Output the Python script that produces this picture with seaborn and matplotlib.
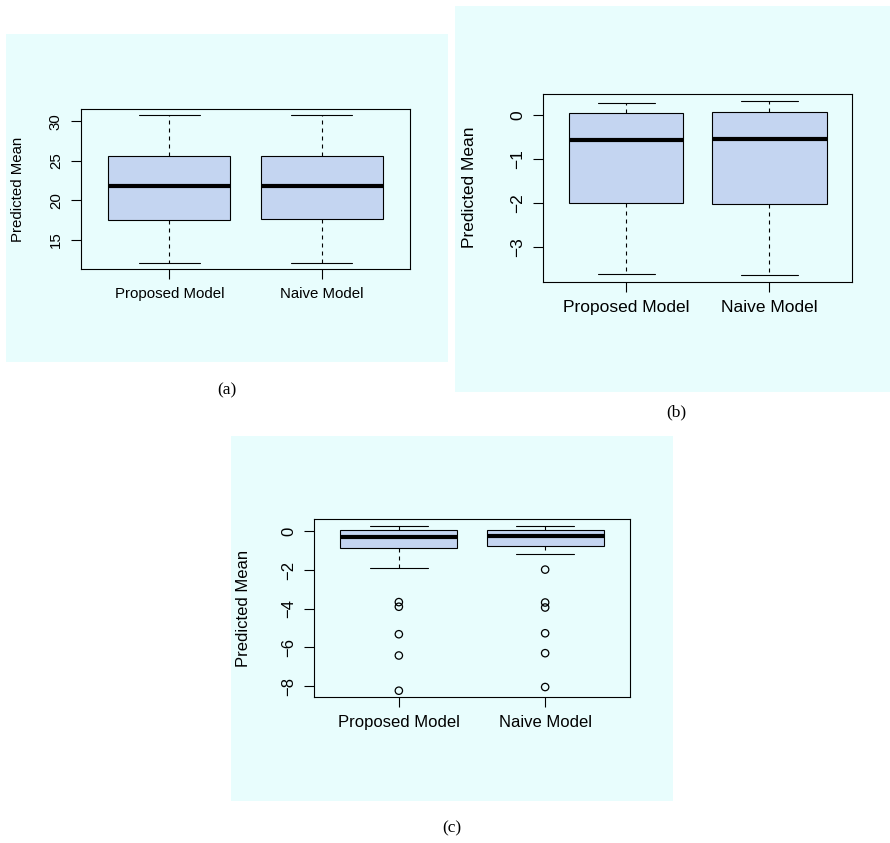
import numpy as np
import pandas as pd
import matplotlib
matplotlib.use("Agg")
import matplotlib.pyplot as plt
from matplotlib.patches import Rectangle
import seaborn as sns

# Model names on the x axis
categories = ["Proposed Model", "Naive Model"]

# Five-number summaries (lower whisker, Q1, median, Q3, upper whisker)
a_proposed = [12.05, 17.55, 21.8, 25.6, 30.8]
a_naive = [12.1, 17.6, 21.8, 25.6, 30.8]
b_proposed = [-3.60, -2.00, -0.57, 0.05, 0.28]
b_naive = [-3.62, -2.01, -0.55, 0.07, 0.33]
c_proposed = [-1.90, -0.86, -0.29, 0.07, 0.26]
c_naive = [-1.19, -0.74, -0.26, 0.09, 0.28]

# Outlying predictions in panel (c)
c_proposed_out = [-3.66, -3.90, -5.32, -6.42, -8.24]
c_naive_out = [-1.98, -3.68, -3.94, -5.27, -6.30, -8.05]

# Y tick values
a_ticks = [15, 20, 25, 30]
b_ticks = [-3, -2, -1, 0]
c_ticks = [-8, -6, -4, -2, 0]

panel_labels = ["(a)", "(b)", "(c)"]

BG = "#E8FDFD"
BOX = "#C4D5F1"

sns.set_theme(style="ticks")
plt.rcParams["font.family"] = ["Liberation Sans", "DejaVu Sans"]
plt.rcParams.update({
    "text.color": "black",
    "axes.labelcolor": "black",
    "xtick.color": "black",
    "ytick.color": "black",
    "axes.edgecolor": "black",
})

W, H = 890, 843
fig = plt.figure(figsize=(W / 100, H / 100), dpi=100, facecolor="white")


def frac_rect(x0, y0, x1, y1):
    return [x0 / W, 1 - y1 / H, (x1 - x0) / W, (y1 - y0) / H]


def long_form(first, second):
    return pd.DataFrame({
        "model": [categories[0]] * len(first) + [categories[1]] * len(second),
        "value": list(first) + list(second),
    })


def tick_text(v):
    return str(v).replace("-", "\u2212")


def draw_panel(bg, axrect, summ, outliers, ticks, fs, ylab_off, cap_xy, cap_label):
    x0, y0, x1, y1 = bg
    fig.patches.append(Rectangle((x0 / W, 1 - y1 / H), (x1 - x0) / W, (y1 - y0) / H,
                                 transform=fig.transFigure, facecolor=BG,
                                 edgecolor="none", zorder=-10))
    ax = fig.add_axes(frac_rect(*axrect))
    ax.set_zorder(5)
    ax.set_facecolor(BG)
    df = long_form(*summ)
    sns.boxplot(data=df, x="model", y="value", order=categories, ax=ax,
                width=0.8, whis=(0, 100), color=BOX, linecolor="black",
                linewidth=0.8, saturation=1, showfliers=False,
                capwidths=0.4,
                medianprops=dict(linewidth=3.0, color="black", solid_capstyle="butt"),
                whiskerprops=dict(linestyle=(0, (3.6, 3.6)), linewidth=0.8),
                capprops=dict(linewidth=0.8))
    if outliers is not None:
        n_before = len(ax.collections)
        odf = long_form(*outliers)
        sns.stripplot(data=odf, x="model", y="value", order=categories, ax=ax,
                      jitter=False, color="black", size=5.3, marker="o")
        for pts in ax.collections[n_before:]:
            pts.set_facecolor("none")
            pts.set_edgecolor("black")
            pts.set_linewidth(0.9)
    lo = min(min(s) for s in summ)
    hi = max(max(s) for s in summ)
    if outliers is not None:
        lo = min(lo, min(min(o) for o in outliers))
    pad = (hi - lo) * 0.04
    ax.set_ylim(lo - pad, hi + pad)
    ax.set_xlim(-0.58, 1.58)
    ax.set_yticks(ticks)
    ax.set_yticklabels([tick_text(t) for t in ticks])
    ax.set_xlabel("")
    ax.set_ylabel("Predicted Mean", fontsize=fs, color="black")
    ax.yaxis.set_label_coords(ylab_off, 0.5)
    ax.tick_params(axis="y", labelrotation=90, labelsize=fs, length=7, width=0.8,
                   pad=6, color="black", labelcolor="black")
    ax.tick_params(axis="x", labelsize=fs, length=7, width=0.8, pad=6, color="black",
                   labelcolor="black")
    for lbl in ax.get_yticklabels():
        lbl.set_verticalalignment("center")
    for s in ax.spines.values():
        s.set_visible(True)
        s.set_color("black")
        s.set_linewidth(0.8)
    fig.text(cap_xy[0] / W, 1 - cap_xy[1] / H, cap_label, ha="center", va="center",
             fontsize=12.5, color="black", family=["Liberation Serif", "DejaVu Serif"])
    return ax


draw_panel((6, 34, 448, 362), (81, 109, 410, 269), (a_proposed, a_naive), None,
           a_ticks, 10.8, -0.17, (227, 390), panel_labels[0])
draw_panel((455, 6, 890, 392), (543.3, 93.7, 852.3, 281.7), (b_proposed, b_naive), None,
           b_ticks, 12.5, -0.215, (676, 412), panel_labels[1])
draw_panel((231, 436, 673, 801), (314, 519.3, 630, 697.3), (c_proposed, c_naive),
           (c_proposed_out, c_naive_out), c_ticks, 12.0, -0.2, (452, 828), panel_labels[2])

fig.savefig("out.png", dpi=100, facecolor="white")
